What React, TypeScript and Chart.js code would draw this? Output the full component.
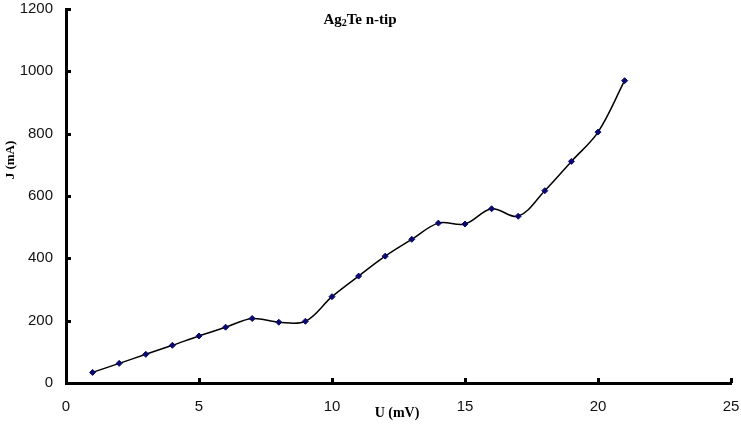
import React, { useEffect, useRef } from "react";
import { Chart, registerables } from "chart.js";

Chart.register(...registerables);

const uValues: number[] = [1, 2, 3, 4, 5, 6, 7, 8, 9, 10, 11, 12, 13, 14, 15, 16, 17, 18, 19, 20, 21];
const jValues: number[] = [34, 63, 92, 121, 151, 179, 207, 195, 198, 277, 343, 407, 461, 513, 510, 559, 535, 617, 711, 805, 970];
const xTicks: number[] = [0, 5, 10, 15, 20, 25];
const yTicks: number[] = [0, 200, 400, 600, 800, 1000, 1200];
const titleMain = "Ag";
const titleSub = "2";
const titleRest = "Te n-tip";
const xTitle = "U (mV)";
const yTitle = "J (mA)";

const decorPlugin = {
  id: "decor",
  afterDraw(chart: any) {
    const ctx = chart.ctx as CanvasRenderingContext2D;
    const xs = chart.scales.x;
    const ys = chart.scales.y;
    const area = chart.chartArea;
    ctx.save();
    // inward tick marks
    ctx.strokeStyle = "#000";
    ctx.lineWidth = 3;
    ctx.beginPath();
    for (const v of yTicks) {
      const py = Math.round(ys.getPixelForValue(v)) + 0.5;
      ctx.moveTo(area.left, py);
      ctx.lineTo(area.left + 5, py);
    }
    for (const v of xTicks) {
      const px = Math.round(xs.getPixelForValue(v)) + 0.5;
      ctx.moveTo(px, area.bottom);
      ctx.lineTo(px, area.bottom - 5);
    }
    ctx.stroke();

    // chart title with subscript
    ctx.fillStyle = "#000";
    ctx.textBaseline = "alphabetic";
    const big = "bold 15px 'Liberation Serif', 'Times New Roman', serif";
    const small = "bold 10px 'Liberation Serif', 'Times New Roman', serif";
    ctx.font = big;
    const w1 = ctx.measureText(titleMain).width;
    const w3 = ctx.measureText(titleRest).width;
    ctx.font = small;
    const w2 = ctx.measureText(titleSub).width;
    const total = w1 + w2 + w3;
    const cx = 360;
    const by = 24;
    let x0 = cx - total / 2;
    ctx.textAlign = "left";
    ctx.font = big;
    ctx.fillText(titleMain, x0, by);
    x0 += w1;
    ctx.font = small;
    ctx.fillText(titleSub, x0, by + 2);
    x0 += w2;
    ctx.font = big;
    ctx.fillText(titleRest, x0, by);

    // x axis title
    ctx.font = "bold 14px 'Liberation Serif', 'Times New Roman', serif";
    ctx.textAlign = "center";
    ctx.textBaseline = "middle";
    ctx.fillText(xTitle, 397, 413);

    // y axis title
    ctx.save();
    ctx.translate(11, 160);
    ctx.rotate(-Math.PI / 2);
    ctx.font = "bold 13px 'Liberation Serif', 'Times New Roman', serif";
    ctx.fillText(yTitle, 0, 0);
    ctx.restore();
    ctx.restore();
  },
};

export default function App() {
  const ref = useRef<HTMLCanvasElement | null>(null);
  useEffect(() => {
    if (!ref.current) return;
    const tickFont = { family: "'Liberation Sans', Arial, sans-serif", size: 15 };
    const chart = new Chart(ref.current, {
      type: "line",
      data: {
        datasets: [
          {
            data: uValues.map((u, i) => ({ x: u, y: jValues[i] })),
            borderColor: "#000",
            borderWidth: 1.5,
            tension: 0.35,
            pointStyle: "rectRot",
            pointRadius: 3,
            pointBackgroundColor: "#0a0a6e",
            pointBorderColor: "#0a0a6e",
            pointBorderWidth: 1,
            fill: false,
          },
        ],
      },
      options: {
        responsive: false,
        animation: false,
        layout: { padding: { left: 0, right: 10, top: 9, bottom: 0 } },
        plugins: { legend: { display: false }, tooltip: { enabled: false }, title: { display: false } },
        scales: {
          x: {
            type: "linear",
            min: 0,
            max: 25,
            afterFit: (s: any) => {
              s.height = 41;
              s.paddingLeft = 0;
              s.paddingRight = 0;
            },
            afterBuildTicks: (s: any) => {
              s.ticks = xTicks.map((v) => ({ value: v }));
            },
            grid: { display: true, drawOnChartArea: false, drawTicks: false },
            border: { display: true, color: "#000", width: 3 },
            ticks: {
              padding: 15,
              color: "#111",
              font: tickFont,
              callback: (v: any) => String(v),
            },
          },
          y: {
            type: "linear",
            min: 0,
            max: 1200,
            afterFit: (s: any) => {
              s.width = 66;
              s.paddingTop = 0;
              s.paddingBottom = 0;
            },
            afterBuildTicks: (s: any) => {
              s.ticks = yTicks.map((v) => ({ value: v }));
            },
            grid: { display: true, drawOnChartArea: false, drawTicks: false },
            border: { display: true, color: "#000", width: 3 },
            ticks: {
              padding: 13,
              color: "#111",
              font: tickFont,
              callback: (v: any) => String(v),
            },
          },
        },
      },
      plugins: [decorPlugin],
    });
    return () => chart.destroy();
  }, []);
  return (
    <div style={{ position: "absolute", left: 0, top: 0, width: 741, height: 424, background: "#fff" }}>
      <canvas ref={ref} width={741} height={424} style={{ display: "block" }} />
    </div>
  );
}
